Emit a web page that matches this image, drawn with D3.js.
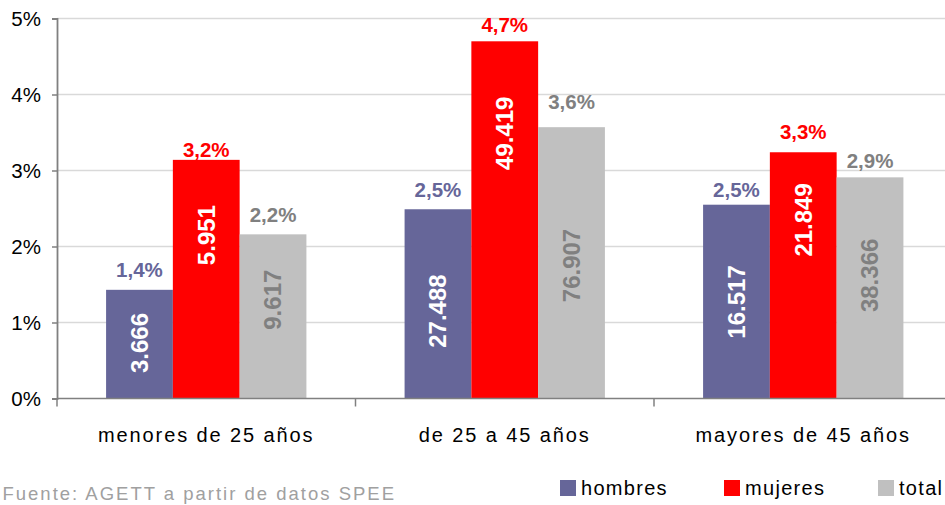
<!DOCTYPE html>
<html>
<head>
<meta charset="utf-8">
<script src="https://cdn.jsdelivr.net/npm/d3@7/dist/d3.min.js"></script>
<style>
  body { margin: 0; background: #fff; }
  text { font-family: "Liberation Sans", Arial, sans-serif; }
</style>
</head>
<body>
<script>
const categories = ['menores de 25 años', 'de 25 a 45 años', 'mayores de 45 años'];
const seriesNames = ['hombres', 'mujeres', 'total'];

// tasa (%) por grupo de edad
const hombres = [1.43, 2.49, 2.55];
const mujeres = [3.14, 4.70, 3.24];
const total = [2.16, 3.57, 2.91];

// etiquetas sobre las barras
const hombresPct = ['1,4%', '2,5%', '2,5%'];
const mujeresPct = ['3,2%', '4,7%', '3,3%'];
const totalPct = ['2,2%', '3,6%', '2,9%'];

// base de la etiqueta superior, en unidades del eje (%)
const hombresPctAt = [1.60, 2.65, 2.65];
const mujeresPctAt = [3.18, 4.82, 3.41];
const totalPctAt = [2.32, 3.81, 3.03];

// cifras absolutas dentro de las barras
const hombresNum = ['3.666', '27.488', '16.517'];
const mujeresNum = ['5.951', '49.419', '21.849'];
const totalNum = ['9.617', '76.907', '38.366'];

// centro de la cifra interior, en unidades del eje (%)
const hombresNumAt = [0.73, 1.15, 1.27];
const mujeresNumAt = [2.15, 3.49, 2.35];
const totalNumAt = [1.30, 1.75, 1.62];

const yTicks = [0, 1, 2, 3, 4, 5];
const source = 'Fuente: AGETT a partir de datos SPEE';

const width = 945;
const height = 505;
const colors = { hombres: '#666699', mujeres: '#ff0000', total: '#c0c0c0' };
const labelColors = { hombres: '#666699', mujeres: '#ff0000', total: '#808080' };
const innerColors = { hombres: '#ffffff', mujeres: '#ffffff', total: '#808080' };

const series = [
  { key: 'hombres', values: hombres, pct: hombresPct, pctAt: hombresPctAt, num: hombresNum, at: hombresNumAt },
  { key: 'mujeres', values: mujeres, pct: mujeresPct, pctAt: mujeresPctAt, num: mujeresNum, at: mujeresNumAt },
  { key: 'total', values: total, pct: totalPct, pctAt: totalPctAt, num: totalNum, at: totalNumAt }
];

const svg = d3.select('body').append('svg')
  .attr('width', width)
  .attr('height', height);

const x0 = d3.scaleBand().domain(categories).range([57, 952.5]).padding(0);
const x1 = d3.scaleBand().domain(seriesNames).range([0, x0.bandwidth()])
  .paddingInner(0).paddingOuter(0.735);
const y = d3.scaleLinear().domain([0, 5]).range([398.5, 18.5]);

// gridlines
svg.append('g')
  .selectAll('line')
  .data(yTicks.filter(d => d > 0))
  .join('line')
    .attr('x1', 57).attr('x2', width)
    .attr('y1', d => y(d)).attr('y2', d => y(d))
    .attr('stroke', '#d9d9d9')
    .attr('stroke-width', 1.5);

// y axis
const yAxis = svg.append('g')
  .attr('transform', 'translate(57,0)')
  .call(d3.axisLeft(y).tickValues(yTicks).tickFormat(d => d + '%').tickSize(5).tickPadding(11));
yAxis.select('.domain').attr('stroke', '#808080').attr('stroke-width', 1.8);
yAxis.selectAll('.tick line').attr('stroke', '#808080').attr('stroke-width', 1.5);
yAxis.selectAll('.tick text')
  .attr('font-size', 20.5)
  .attr('font-family', '"Liberation Sans", Arial, sans-serif')
  .attr('fill', '#000');

// bars
const groups = svg.append('g')
  .selectAll('g')
  .data(series)
  .join('g');

groups.selectAll('rect')
  .data(s => s.values.map((v, i) => ({ key: s.key, v, cat: categories[i] })))
  .join('rect')
    .attr('x', d => x0(d.cat) + x1(d.key))
    .attr('y', d => y(d.v))
    .attr('width', x1.bandwidth())
    .attr('height', d => y(0) - y(d.v))
    .attr('fill', d => colors[d.key]);

// x axis line and category ticks
svg.append('line')
  .attr('x1', 57).attr('x2', width)
  .attr('y1', y(0)).attr('y2', y(0))
  .attr('stroke', '#808080').attr('stroke-width', 1.5);
svg.append('g')
  .selectAll('line')
  .data(categories)
  .join('line')
    .attr('x1', d => x0(d)).attr('x2', d => x0(d))
    .attr('y1', y(0)).attr('y2', y(0) + 8)
    .attr('stroke', '#808080').attr('stroke-width', 1.5);

// category labels
svg.append('g')
  .selectAll('text')
  .data(categories)
  .join('text')
    .attr('x', d => x0(d) + x0.bandwidth() / 2)
    .attr('y', 442)
    .attr('text-anchor', 'middle')
    .attr('font-size', 20)
    .attr('letter-spacing', 1.9)
    .text(d => d);

// percentage labels above bars
groups.selectAll('text.pct')
  .data(s => s.values.map((v, i) => ({ key: s.key, at: s.pctAt[i], cat: categories[i], t: s.pct[i] })))
  .join('text')
    .attr('class', 'pct')
    .attr('x', d => x0(d.cat) + x1(d.key) + x1.bandwidth() / 2)
    .attr('y', d => y(d.at))
    .attr('text-anchor', 'middle')
    .attr('font-size', 20.5)
    .attr('font-weight', 'bold')
    .attr('fill', d => labelColors[d.key])
    .text(d => d.t);

// absolute numbers inside bars (rotated)
groups.selectAll('text.num')
  .data(s => s.values.map((v, i) => ({ key: s.key, at: s.at[i], cat: categories[i], t: s.num[i] })))
  .join('text')
    .attr('class', 'num')
    .attr('transform', d => `translate(${x0(d.cat) + x1(d.key) + x1.bandwidth() / 2},${y(d.at)}) rotate(-90)`)
    .attr('text-anchor', 'middle')
    .attr('dy', '0.35em')
    .attr('font-size', 24)
    .attr('font-weight', 'bold')
    .attr('fill', d => innerColors[d.key])
    .text(d => d.t);

// legend
const legendX = [560, 724, 878];
const legend = svg.append('g')
  .selectAll('g')
  .data(seriesNames)
  .join('g')
    .attr('transform', (d, i) => `translate(${legendX[i]},480)`);
legend.append('rect')
  .attr('width', 16).attr('height', 16)
  .attr('fill', d => colors[d]);
legend.append('text')
  .attr('x', 21).attr('y', 14.5)
  .attr('font-size', 20)
  .attr('letter-spacing', 1.3)
  .attr('fill', '#000')
  .text(d => d);

// source note
svg.append('text')
  .attr('x', 396).attr('y', 500)
  .attr('text-anchor', 'end')
  .attr('font-size', 18.5)
  .attr('letter-spacing', 2)
  .attr('fill', '#a0a0a0')
  .text(source);
</script>
</body>
</html>
